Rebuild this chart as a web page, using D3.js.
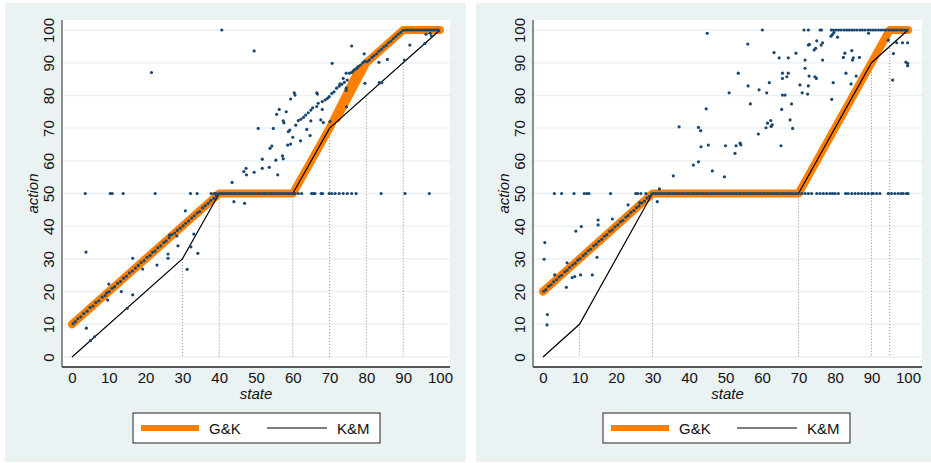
<!DOCTYPE html>
<html>
<head>
<meta charset="utf-8">
<script src="https://cdn.jsdelivr.net/npm/d3@7"></script>
<style>
  body { margin: 0; background: #fff; }
  svg { display: block; }
  text { font-family: "Liberation Sans", Arial, sans-serif; fill: #111; }
</style>
</head>
<body>
<svg id="chart" width="931" height="463"></svg>
<script>
const tickVals = [0, 10, 20, 30, 40, 50, 60, 70, 80, 90, 100];
const seriesNames = ["G&K", "K&M"];

// ---- left panel ----
const leftGK = [[0,10],[40,50],[60,50],[70,70],[78,88],[72,73],[80,90],[90,100],[100,100]];
const leftKM = [[0,0],[30,30],[40,50],[60,50],[70,70],[100,100]];
const leftDrops = [[30,30],[40,50],[60,50],[70,70],[80,80],[90,90]];

// dots lying on the G&K line 0..40
const leftDiag = [[0.3,10.2],[0.9,10.8],[1.6,11.7],[2.4,12.3],[3.2,13.3],[4.1,14],[4.9,15.1],[5.7,15.6],
  [6.5,16.6],[7.3,17.2],[8.2,18.3],[9,18.8],[9.4,19.6],[10.1,20],[10.9,21],[11.6,21.5],[12.4,22.5],
  [13.2,23.1],[14,24.1],[14.8,24.7],[15.6,25.7],[16.4,26.3],[17.2,27.2],[18,28],[18.8,28.9],[19.6,29.5],
  [20.4,30.5],[21.2,31.1],[21.9,32],[22.6,32.4],[23.3,33.4],[24.1,34],[24.9,35],[25.6,35.5],[26.4,36.5],
  [27.1,37.4],[27.9,37.9],[28.6,38.7],[29.4,39.4],[30.2,40.1],[30.9,40.9],[31.7,41.6],[32.5,42.5],
  [33.2,43.2],[34,44],[34.7,44.5],[35.5,45.6],[36.2,46.3],[37,47],[37.7,47.8],[38.5,48.5],[39.2,49.2],[39.8,49.9]];
// dots at action = 50
const leftAt50 = [3.6,10.4,10.9,13.9,22.6,32.2,34,37.8,38.6,39.1,
  40.3,40.9,41.5,42.2,42.8,43.4,44.1,44.7,45.4,46,46.6,47.3,47.9,48.6,49.2,49.8,50.5,51.1,51.8,52.4,
  53,53.7,54.3,55,55.6,56.2,56.9,57.5,58.2,58.8,59.4,60,
  60.6,61.5,62.4,65.1,65.6,66,67.7,68.1,69.9,70.6,71.5,72.6,73.7,74.8,76,77.2,84,90.5,97.1];
// dots on the upper segment 80..90 and the cap at 100
const leftUpper = [[80.2,90.3],[80.8,90.8],[81.5,91.6],[82.1,92.2],[82.8,92.7],[83.4,93.5],[84.1,94.1],
  [84.7,94.8],[85.4,95.3],[86,96.1],[86.7,96.6],[87.3,97.4],[88,98],[88.6,98.7],[89.3,99.2],[89.9,99.9]];
const leftAt100 = [40.7,90.6,91.2,91.9,92.5,93.1,93.8,94.4,95,95.7,96.3,96.9,97.6,98.2,98.8,99.5];
const leftOther = [[21.6,87],[49.5,93.6],[70.7,89.8],
  [3.8,32.1],[3.9,8.8],[5,5],[6.1,6.2],[10,22.3],[9.7,17.4],[13.4,20],[15,14.9],[16.5,30.2],[16.5,19],
  [19.2,26.9],[23.1,28.1],[26.1,31.5],[26.1,30.2],[26.5,37.3],[28.5,37],[28.8,34],[30.8,44.7],[31.3,26.8],
  [32.3,33.7],[33.1,37.6],[34.2,31.7],[43.5,53.4],[44,47.5],[46.9,47],
  [47.3,57.7],[46.7,56.7],[47.4,55.7],[49.5,56.5],[50.6,69.9],[51.7,60.5],[51.7,57.7],[53.6,58],[53.8,63.8],
  [54.3,64.5],[54.7,69.9],[55.4,60.2],[55.9,55.7],[55.6,74.2],[56.3,75.7],[57.4,72.2],[57.6,71.6],
  [57.4,60.6],[57.2,61.5],[58.2,75],[58.6,64.8],[58.8,68.9],[59.2,69.4],[59.4,65.1],[59.4,78.9],
  [60.4,80.8],[60.6,80.1],[60,67.2],[60.8,70.9],[61.5,72.3],[62.1,66.1],[62.2,72.7],[62.9,73.3],
  [63.5,74],[63.8,69.6],[64.2,74.7],[64.9,75.5],[64.9,72.2],[64.7,67.7],[65.4,76.2],[66.5,80.8],
  [66.7,80.4],[66.5,76.6],[66.9,77.6],[67.6,72.5],[68,75.7],[68,78.1],[68.3,71.7],[68.8,78.6],
  [69.4,79.1],[69.9,79.6],[70.1,72],[70.6,80.6],[71.2,81.1],[71.9,82.2],[72.6,82.8],[72.8,83.5],
  [73.3,83.4],[73.7,85.2],[74,84],[74.5,86.8],[74.5,82.2],[74.5,81.5],[74.8,84.7],[75.4,86.8],[76,87],
  [76.4,87.5],[76.9,88],[77.4,88.3],[77.8,88.8],[78.4,89.3],[79,90],[79.6,90.5],[74.6,76.5],[79.6,83.7],
  [83.5,83.9],[84.2,83.9],[76,95.1],[79.4,92.7],[83.4,90.1],[85.7,91],[90.3,90.8],[91.8,95.4],
  [96.2,98.7],[95.9,95.9],[97.7,98.2],[97.3,99]];

// ---- right panel ----
const rightGK = [[0,20],[30,50],[70,50],[90,90],[95,100],[100,100]];
const rightKM = [[0,0],[10,10],[30,50],[70,50],[90,90],[100,100]];
const rightDrops = [[10,10],[30,50],[70,50],[90,90],[95,100]];

const rightDiag = [[0.2,20.1],[0.8,20.6],[1.5,21.6],[2.2,22.1],[2.9,23],[3.7,23.6],[4.4,24.5],[5.1,25],
  [5.9,26],[6.6,26.5],[7.3,27.4],[8.1,28.1],[8.8,28.7],[9.5,29.6],[10.2,30.1],[11,31],[11.7,31.6],
  [12.4,32.5],[13.1,33],[13.9,34],[14.6,34.5],[15.3,35.4],[16.1,36],[16.8,36.9],[17.5,37.4],[18.3,38.4],
  [19,38.9],[19.7,39.8],[20.5,40.4],[21.2,41.3],[21.9,41.8],[22.7,42.8],[23.4,43.3],[24.1,44.2],
  [24.9,44.8],[25.6,45.7],[26.3,46.2],[27.1,47.1],[27.8,47.7],[28.5,48.6],[29.2,49.1],[29.8,49.9]];
const rightAt50 = [3.1,5.1,8.5,11.3,12,12.6,18.5,25.4,25.9,26.8,28.2,
  30.3,30.9,31.6,32.2,32.9,33.5,34.2,34.8,35.5,36.1,36.8,37.4,38.1,38.7,39.4,40,40.7,41.3,42,42.6,
  43.3,43.9,44.6,45.2,45.9,46.5,47.2,47.8,48.5,49.1,49.8,50.4,51.1,51.7,52.4,53,53.7,54.3,55,55.6,
  56.3,56.9,57.6,58.2,58.9,59.5,60.2,60.8,61.5,62.1,62.8,63.4,64.1,64.7,65.4,66,66.7,67.3,68,68.6,
  69.3,69.9,
  70.9,71.8,72.7,73.6,75,75.9,76.8,77.7,78.6,79.3,80,80.9,82.9,83.6,84.6,85.5,86.4,87.3,88.2,89.1,
  90.1,90.5,91.4,92.3,94.6,95.5,96.4,97.3,98.1,98.7,99.6,100];
const rightAt100 = [60.1,71.5,72.7,75.9,76.3,79,79.6,80.3,81,81.7,82.5,83.2,83.9,84.6,85.3,86,86.8,
  87.5,88.2,89,89.7,90.4,91.1,91.9,92.6,93.3,94,94.8,95.5,96.2,96.9,97.7,98.4,99.1,99.8];
const rightOther = [[31.9,51.4],[35.7,55.4],[37.3,70.4],[41.2,58.7],[42.6,59.7],[42.6,70.2],[43.2,69.2],
  [43.3,64.3],[45,99],[44.7,75.9],[45.3,64.8],[46.4,56.9],[49.7,55.1],[50,64.6],[51,80.8],[52.6,62.3],
  [52.9,64.6],[54,65.4],[54.2,64.9],[53.5,86.8],[56.1,95.7],[56.2,82.9],[56.8,77.4],[59,68.2],[59.2,81.7],
  [61.3,80.8],[61.5,71.5],[61.1,70.1],[62,83.9],[62.4,72.3],[62.5,70.5],[62.8,71],[63.3,93.1],[64.7,91.5],
  [65.2,64.6],[65.4,75.7],[65.6,80.1],[66.3,80.1],[65.6,85.2],[65.6,86.8],[66.8,85.7],[67.2,86.8],
  [67.2,91.5],[67.7,72.5],[68.1,77.4],[68.4,69.9],[69.3,92.9],[70.4,83.2],[71,80.8],[71.8,88.3],
  [71.8,90.8],[72.5,80.4],[72.7,82.9],[72.9,85.9],[73,95.6],[72.7,95.4],[74.3,93.9],[74.7,94.4],
  [75,96.7],[74.5,85.7],[74.9,85.2],[76.2,95.4],[76.6,96.1],[76.6,90.8],[79.1,78.8],[79.5,83.9],
  [78.9,98.1],[79.3,98.6],[79.7,99.2],[80.7,97.8],[82.3,91.6],[82.7,92.9],[83,86.8],[84.4,83.5],
  [84.6,93.7],[84.8,90.8],[85,91.5],[85.8,85.9],[86.7,91.6],[89.2,99],[94.6,96.9],[95.8,84.7],
  [96,92.8],[96.9,96.1],[98.5,96.1],[99.9,96.1],[99.4,90.2],[99.9,89.8],[99.9,89.1],
  [31.3,47.5],[0.5,35],[0.3,29.9],[1.2,13],[1.1,9.8],[3.2,25.1],[6.6,28.8],[6.4,21.3],[8,24.3],
  [8.7,24.6],[9,38.5],[10.5,39.9],[10.3,25.1],[13.5,25.1],[14.8,30.5],[15.1,40.4],[15.1,41.9],
  [19,42.2],[23.3,46.5],[26.5,47.2]];

const panels = [
  { bgX: 5, plotX: [62, 450], xRange: [72, 440], gk: leftGK, km: leftKM, drops: leftDrops,
    dots: [...leftDiag, ...leftAt50.map(s => [s, 50]), ...leftUpper, ...leftAt100.map(s => [s, 100]), ...leftOther],
    legendX: 133 },
  { bgX: 476, plotX: [533, 922], xRange: [543, 908], gk: rightGK, km: rightKM, drops: rightDrops,
    dots: [...rightDiag, ...rightAt50.map(s => [s, 50]), ...rightAt100.map(s => [s, 100]), ...rightOther],
    legendX: 603 }
];

const svg = d3.select("#chart");
const bg = "#eaf2f3", navy = "#1a476f", orange = "#ff7f00";
const plotTop = 20, plotBottom = 367;
const y = d3.scaleLinear().domain([0, 100]).range([357, 30]);

panels.forEach(p => {
  const x = d3.scaleLinear().domain([0, 100]).range(p.xRange);
  const g = svg.append("g");

  g.append("rect").attr("x", p.bgX).attr("y", 3).attr("width", 461).attr("height", 459).attr("fill", bg);
  g.append("rect").attr("x", p.plotX[0]).attr("y", plotTop)
    .attr("width", p.plotX[1] - p.plotX[0]).attr("height", plotBottom - plotTop).attr("fill", "#fff");

  // horizontal grid
  g.append("g").selectAll("line").data(tickVals).join("line")
    .attr("x1", p.plotX[0]).attr("x2", p.plotX[1])
    .attr("y1", d => y(d)).attr("y2", d => y(d))
    .attr("stroke", bg).attr("stroke-width", 1.5);

  // dotted drop lines
  g.append("g").selectAll("line").data(p.drops).join("line")
    .attr("x1", d => x(d[0])).attr("x2", d => x(d[0]))
    .attr("y1", d => y(d[1])).attr("y2", y(0))
    .attr("stroke", "#8a8a8a").attr("stroke-width", 1).attr("stroke-dasharray", "1,2");

  const line = d3.line().x(d => x(d[0])).y(d => y(d[1]));
  g.append("path").attr("d", line(p.gk)).attr("fill", "none").attr("stroke", orange)
    .attr("stroke-width", 8).attr("stroke-linecap", "round").attr("stroke-linejoin", "round");
  g.append("path").attr("d", line(p.km)).attr("fill", "none").attr("stroke", "#000")
    .attr("stroke-width", 1.2);

  g.append("g").selectAll("circle").data(p.dots).join("circle")
    .attr("cx", d => x(d[0])).attr("cy", d => y(d[1])).attr("r", 1.6).attr("fill", navy);

  // axes
  const xAxis = g.append("g").attr("transform", `translate(0,${plotBottom})`)
    .call(d3.axisBottom(x).tickValues(tickVals).tickSize(0).tickPadding(5));
  xAxis.select(".domain").remove();
  xAxis.selectAll("text").style("font-size", "15px").attr("fill", "#111");

  const yAxis = g.append("g").attr("transform", `translate(${p.plotX[0]},0)`)
    .call(d3.axisLeft(y).tickValues(tickVals).tickSize(0));
  yAxis.select(".domain").remove();
  yAxis.selectAll("text").attr("x", null).attr("dy", null).attr("text-anchor", "middle")
    .attr("transform", "translate(-8,0) rotate(-90)").style("font-size", "15px").attr("fill", "#111");

  g.append("line").attr("x1", p.plotX[0]).attr("x2", p.plotX[1]).attr("y1", plotBottom).attr("y2", plotBottom)
    .attr("stroke", "#222").attr("stroke-width", 1.3);
  g.append("line").attr("x1", p.plotX[0]).attr("x2", p.plotX[0]).attr("y1", plotTop).attr("y2", plotBottom)
    .attr("stroke", "#555").attr("stroke-width", 1.3);

  const cx = (p.plotX[0] + p.plotX[1]) / 2;
  g.append("text").attr("x", cx).attr("y", 399).attr("text-anchor", "middle")
    .style("font-size", "15px").style("font-style", "italic").text("state");
  g.append("text").attr("transform", `translate(${p.plotX[0] - 24.5},${(plotTop + plotBottom) / 2}) rotate(-90)`)
    .attr("text-anchor", "middle").style("font-size", "15px").style("font-style", "italic").text("action");

  // legend
  const L = p.legendX;
  const lg = g.append("g");
  lg.append("rect").attr("x", L).attr("y", 413).attr("width", 247).attr("height", 30)
    .attr("fill", "#fff").attr("stroke", "#222").attr("stroke-width", 1);
  lg.append("line").attr("x1", L + 8).attr("x2", L + 66).attr("y1", 428).attr("y2", 428)
    .attr("stroke", orange).attr("stroke-width", 6);
  lg.append("text").attr("x", L + 76).attr("y", 433.5).style("font-size", "15px").text(seriesNames[0]);
  lg.append("line").attr("x1", L + 134).attr("x2", L + 194).attr("y1", 428).attr("y2", 428)
    .attr("stroke", "#000").attr("stroke-width", 1.2);
  lg.append("text").attr("x", L + 204).attr("y", 433.5).style("font-size", "15px").text(seriesNames[1]);
});
</script>
</body>
</html>
